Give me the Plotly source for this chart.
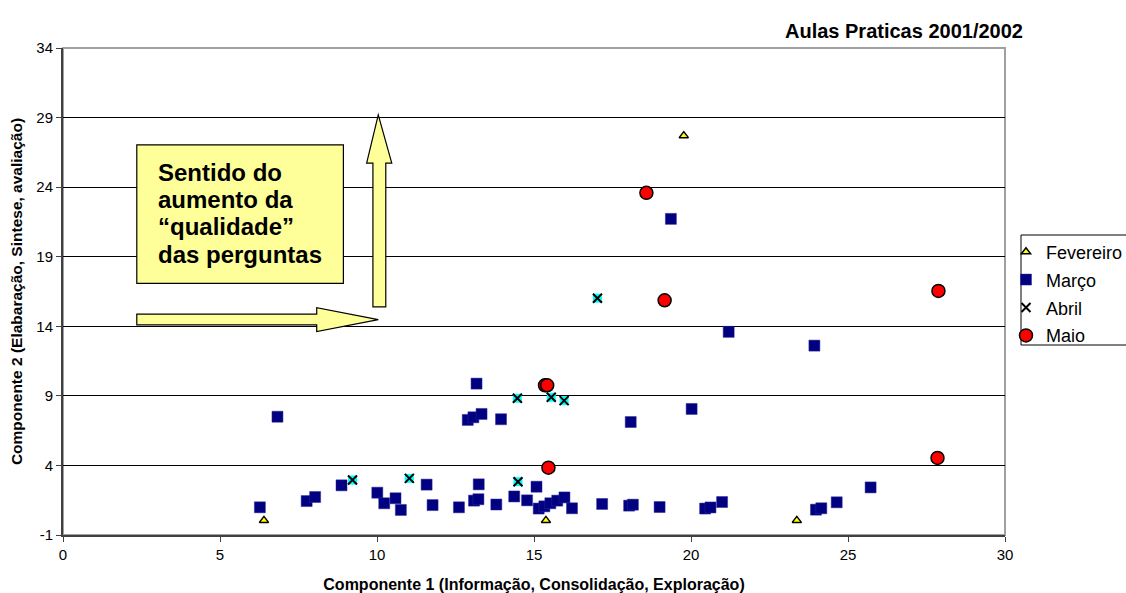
import plotly.graph_objects as go

# --- data -------------------------------------------------------------
fev_x = [6.40, 15.38, 23.37, 19.77]
fev_y = [0.05, 0.05, 0.05, 27.7]

mar_x = [6.83, 6.27, 7.76, 8.03, 8.87, 10.01, 10.23, 10.59, 10.76, 11.58,
         11.77, 13.17, 12.89, 13.07, 13.33, 13.95, 18.08, 13.24, 15.08, 12.61,
         13.09, 13.23, 13.80, 14.37, 14.78, 15.15, 15.33, 15.52, 15.74, 15.97,
         16.21, 17.17, 18.03, 18.15, 19.00, 20.45, 20.62, 20.99, 23.98, 24.15,
         24.64, 25.72, 20.02, 23.93, 21.20, 19.36]
mar_y = [7.50, 0.99, 1.44, 1.73, 2.57, 2.04, 1.28, 1.64, 0.80, 2.62,
         1.15, 9.88, 7.27, 7.46, 7.70, 7.32, 7.12, 2.64, 2.47, 0.99,
         1.47, 1.57, 1.19, 1.77, 1.49, 0.90, 1.06, 1.28, 1.47, 1.70,
         0.92, 1.23, 1.11, 1.18, 1.01, 0.90, 0.98, 1.37, 0.82, 0.92,
         1.35, 2.42, 8.06, 12.61, 13.60, 21.72]

abr_x = [9.22, 11.03, 14.49, 14.47, 15.55, 15.96, 17.02]
abr_y = [2.95, 3.07, 2.83, 8.83, 8.90, 8.66, 16.02]

mai_x = [18.58, 19.16, 15.35, 15.42, 15.46, 27.88, 27.85]
mai_y = [23.59, 15.87, 9.76, 9.76, 3.84, 16.54, 4.54]

x_ticks = [0, 5, 10, 15, 20, 25, 30]
y_ticks = [-1, 4, 9, 14, 19, 24, 29, 34]

box_lines = ["Sentido do", "aumento da", "\u201cqualidade\u201d", "das perguntas"]

FONT = "Liberation Sans, Arial, sans-serif"

# plot area in pixels (left, right, top, bottom)
L, R, T, B = 63, 1005, 48, 535
W, H = R - L, B - T


def px_x(p):
    return (p - L) / W


def px_y(p):
    return (B - p) / H


fig = go.Figure()

fig.add_trace(go.Scatter(
    x=fev_x, y=fev_y, mode="markers", name="Fevereiro", legendgroup="fev",
    marker=dict(symbol="triangle-up", size=8, color="#FFFF00",
                line=dict(color="black", width=1.5))))

fig.add_trace(go.Scatter(
    x=mar_x, y=mar_y, mode="markers", name="Março", legendgroup="mar",
    marker=dict(symbol="square", size=11, color="#000080",
                line=dict(color="#2a2a9a", width=0.5))))

# Abril: cyan square with a black cross on top
fig.add_trace(go.Scatter(
    x=abr_x, y=abr_y, mode="markers", name="Abril", legendgroup="abr",
    showlegend=False, hoverinfo="skip",
    marker=dict(symbol="square", size=9, color="#00FFFF", line=dict(width=0))))
fig.add_trace(go.Scatter(
    x=abr_x, y=abr_y, mode="markers", name="Abril", legendgroup="abr",
    marker=dict(symbol="x-thin", size=9, color="black",
                line=dict(color="black", width=2))))

fig.add_trace(go.Scatter(
    x=mai_x, y=mai_y, mode="markers", name="Maio", legendgroup="mai",
    marker=dict(symbol="circle", size=13, color="#FF0000",
                line=dict(color="black", width=1.5))))

# --- explanatory box and arrows ---------------------------------------
FILL = "#FFFF99"
shapes = [
    # plot-area border
    dict(type="rect", xref="paper", yref="paper", x0=0, y0=0, x1=1, y1=1,
         line=dict(color="#A0A0A0", width=2), layer="below"),
    # legend frame
    dict(type="rect", xref="paper", yref="paper",
         x0=px_x(1021), x1=px_x(1135), y0=px_y(345), y1=px_y(235),
         line=dict(color="black", width=1), fillcolor="white", layer="below"),
    dict(type="rect", xref="x", yref="y", x0=2.35, x1=8.93, y0=17.09, y1=27.04,
         fillcolor=FILL, line=dict(color="black", width=1.2)),
    # upward arrow
    dict(type="path", xref="x", yref="y", fillcolor=FILL,
         line=dict(color="black", width=1.2),
         path="M 9.87 15.39 L 10.28 15.39 L 10.28 25.72 L 10.47 25.72 "
              "L 10.04 29.19 L 9.67 25.72 L 9.87 25.72 Z"),
    # rightward arrow
    dict(type="path", xref="x", yref="y", fillcolor=FILL,
         line=dict(color="black", width=1.2),
         path="M 2.35 14.10 L 8.08 14.10 L 8.08 13.62 L 10.04 14.48 "
              "L 8.08 15.34 L 8.08 14.87 L 2.35 14.87 Z"),
]

annotations = []
for i, line in enumerate(box_lines):
    annotations.append(dict(
        x=px_x(156), y=px_y(172 + 27.4 * i), xref="paper", yref="paper",
        xanchor="left", yanchor="middle", align="left", showarrow=False,
        text="<b>" + line + "</b>",
        font=dict(family=FONT, size=24, color="black")))

annotations.append(dict(
    x=px_x(1025), y=px_y(31), xref="paper", yref="paper",
    xanchor="right", yanchor="middle", showarrow=False,
    text="<b>Aulas Praticas 2001/2002</b>",
    font=dict(family=FONT, size=20, color="black")))

fig.update_layout(
    width=1126, height=593,
    margin=dict(l=L, r=1126 - R, t=T, b=593 - B, autoexpand=False),
    paper_bgcolor="white", plot_bgcolor="white",
    font=dict(family=FONT, size=15, color="black"),
    shapes=shapes, annotations=annotations,
    legend=dict(x=px_x(1006), y=px_y(233.5),
                xanchor="left", yanchor="top",
                bgcolor="rgba(0,0,0,0)", borderwidth=0,
                font=dict(family=FONT, size=18, color="black"),
                tracegroupgap=1.5, traceorder="grouped"),
)

fig.update_xaxes(
    range=[0, 30], tickvals=x_ticks, ticktext=[str(v) for v in x_ticks],
    showgrid=False, zeroline=False,
    showline=True, linecolor="#404040", linewidth=2,
    ticks="outside", ticklen=5, tickcolor="#404040",
    tickfont=dict(family=FONT, size=15),
    title=dict(text="<b>Componente 1 (Informação, Consolidação, Exploração)</b>",
               font=dict(family=FONT, size=16), standoff=18))

fig.update_yaxes(
    range=[-1, 34], tickvals=y_ticks, ticktext=[str(v) for v in y_ticks],
    showgrid=True, gridcolor="black", gridwidth=1, zeroline=False,
    showline=True, linecolor="#404040", linewidth=2,
    ticks="outside", ticklen=5, tickcolor="#404040",
    tickfont=dict(family=FONT, size=15),
    title=dict(text="<b>Componente 2 (Elabaração, Sintese, avaliação)</b>",
               font=dict(family=FONT, size=15.5), standoff=10))

fig.write_html("out.html")
